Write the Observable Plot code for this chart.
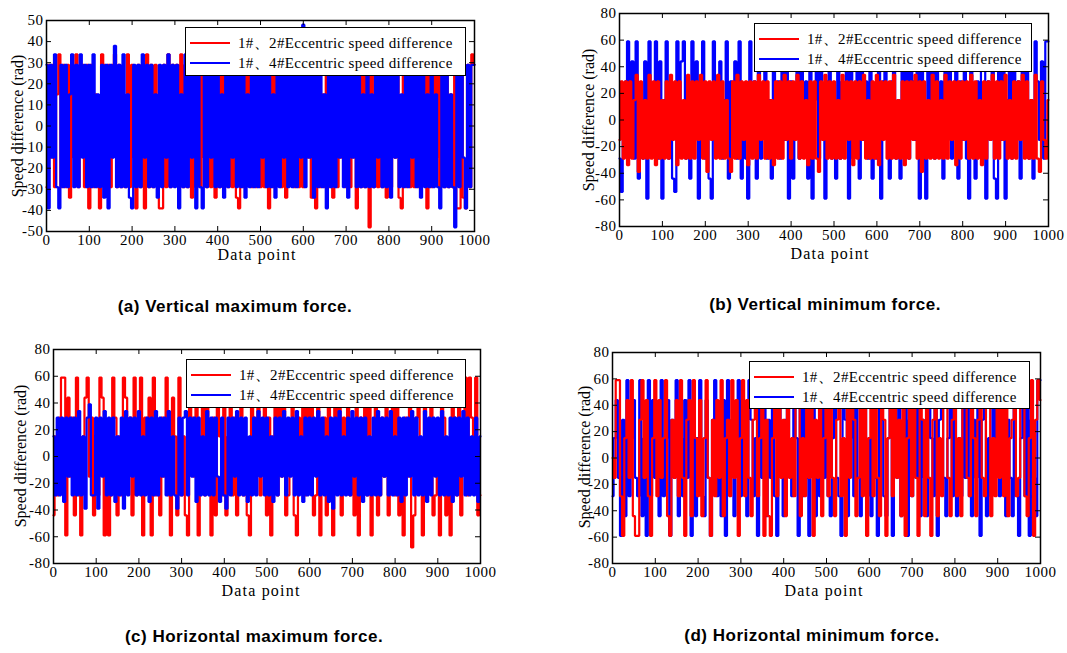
<!DOCTYPE html>
<html><head><meta charset="utf-8">
<script src="https://cdn.jsdelivr.net/npm/d3@7"></script>
<script src="https://cdn.jsdelivr.net/npm/@observablehq/plot@0.6"></script>
<style>
body{margin:0;background:#fff;}
#root{position:relative;width:1067px;height:653px;overflow:hidden;background:#fff;}
.panel{position:absolute;}
.ylab{position:absolute;font-family:"Liberation Serif",serif;font-size:16px;white-space:nowrap;transform:translate(-50%,-50%) rotate(-90deg);}
.xlab{position:absolute;font-family:"Liberation Serif",serif;font-size:16px;letter-spacing:1.2px;white-space:nowrap;transform:translate(-50%,-50%);}
.cap{position:absolute;font-family:"Liberation Sans",Arial,sans-serif;font-weight:bold;font-size:17px;letter-spacing:0.5px;white-space:nowrap;transform:translate(-50%,-50%);}
.legend{position:absolute;background:#fff;border:1.5px solid #000;box-sizing:border-box;font-family:"Liberation Serif",serif;font-size:15px;letter-spacing:0.35px;z-index:2;}
.row{position:absolute;left:0;height:20px;display:flex;align-items:center;white-space:nowrap;}
.swatch{width:40px;height:2px;margin-left:4px;margin-right:8px;}
</style></head><body><div id="root"></div>
<script>
// ---------- data ----------
const seriesNames = ["1#、2#Eccentric speed difference", "1#、4#Eccentric speed difference"];
const seriesColors = ["#ff0000", "#0000ff"];
const xTicks = [0,100,200,300,400,500,600,700,800,900,1000];
const yTicksA = [-50,-40,-30,-20,-10,0,10,20,30,40,50];
const yTicksB = [-80,-60,-40,-20,0,20,40,60,80];
const captions = ["(a) Vertical maximum force.","(b) Vertical minimum force.","(c) Horizontal maximum force.","(d) Horizontal minimum force."];
const xLabel = "Data point";
const yLabel = "Speed difference (rad)";

// (a) vertical maximum force
const aRed = [-29,29,-15,29,-29,15,34,-29,29,-29,
29,-34,29,-15,34,-29,15,29,-29,29,
-39,29,-29,15,-29,-39,34,29,-15,29,
-29,29,34,-29,29,-29,15,-29,34,-29,
29,-15,-39,29,-29,29,-39,34,-29,29,
-29,29,-15,-39,-39,29,-29,34,-29,29,
-15,29,-29,34,-29,29,-29,15,-34,29,
-29,29,-29,34,-15,-29,29,-29,29,-34,
29,-29,29,-15,34,-29,29,-29,29,-34,
-39,29,-29,29,-15,34,-29,29,-29,29,
-29,15,-29,29,-39,34,-29,29,-15,29,
-29,29,-34,29,-15,29,-29,34,-29,29,
-29,29,-15,29,-34,29,-39,34,-29,15,
-29,29,-29,15,-34,29,-29,29,-15,34,
-29,29,-29,29,-15,-39,29,-29,34,-29,
29,-48,29,-29,15,-29,34,-29,29,-34,
29,-29,29,-15,29,-34,-39,29,-29,15,
-29,34,-29,29,-29,29,-15,29,-39,29,
-29,29,-15,34,-29,29,-29,29,-29,15,
-29,29,-39,-39,29,-34,-39,29,-29,34,
29];
const aBlue = [29,-39,29,-15,34,-29,-39,29,-29,29,
-29,15,34,-29,29,-29,34,-15,29,-29,
29,-29,34,-29,15,-29,29,-34,29,-39,
29,-15,38,-29,29,-29,34,-29,15,-34,
-39,29,-29,29,-29,34,-15,29,-29,29,
-29,15,-34,29,-29,29,-15,34,-29,29,
-29,29,-39,15,-29,34,-29,29,-15,29,
-39,29,-29,-39,29,-29,34,-15,29,-29,
29,-29,15,-34,29,-29,29,-15,34,-29,
29,-29,29,-34,15,-29,29,-29,29,-29,
34,-15,29,-29,29,-29,15,-34,29,-29,
29,-15,29,-29,34,-29,29,-29,29,-15,
48,-29,29,-15,29,-34,29,-29,29,-29,
15,-39,29,-29,34,-29,29,-15,29,-29,
29,-34,29,-15,29,-29,34,-29,15,-29,
29,-29,15,-29,34,-15,29,-29,29,-29,
29,-34,29,-15,29,-29,15,-29,34,-29,
29,-15,29,-29,29,-34,29,-29,15,-29,
29,-29,15,-29,-39,29,-29,29,-29,15,
-29,-48,29,-29,29,-15,-39,29,-29,29,
29];

// (b) vertical minimum force
const bRed = [-15,29,-29,29,-34,29,-29,15,34,-39,
29,-29,15,-29,34,-29,29,-34,29,-29,
15,-29,29,-29,34,-15,29,-34,29,-29,
15,-29,34,-29,29,-29,29,-15,34,-29,
29,-39,29,-15,29,-29,34,-29,29,-29,
15,-29,-39,29,-29,34,-29,29,-15,29,
-34,29,-29,29,-29,34,-15,29,-29,29,
-29,15,-34,29,-29,29,-29,34,-15,29,
-29,29,-15,34,-29,29,-29,15,-34,29,
-29,29,-29,-39,29,-15,34,-29,29,-29,
29,-29,15,-29,34,-29,29,-15,29,-34,
29,-29,29,-15,34,-29,15,-29,29,-29,
34,-34,29,-15,29,-29,29,-29,34,-29,
15,-29,29,-34,29,-29,29,-15,34,-29,
29,-39,29,-29,15,-29,34,-29,29,-29,
15,-29,34,-29,29,-15,29,-34,29,-29,
29,-15,29,-29,34,-29,29,-29,15,-34,
29,-29,29,-15,34,-29,29,-29,29,-15,
34,-29,15,-29,29,-29,29,-15,34,-29,
29,-29,15,-29,34,-29,-39,29,-15,-29,
15];
const bBlue = [-29,-54,15,29,59,-15,44,-29,59,-44,
15,-29,44,-59,59,15,-15,59,-29,44,
-59,15,59,-29,29,-44,-54,59,-15,44,
59,-29,15,-44,59,-15,44,-59,29,59,
-29,15,-44,-59,59,-15,29,44,-29,15,
59,-44,29,-15,44,-29,59,-44,15,-29,
-59,59,-15,29,-44,59,-29,15,44,-29,
15,-44,59,-15,29,-29,44,-15,59,-59,
29,-44,15,59,-29,44,-15,29,-44,59,
-59,15,44,-29,59,-15,-59,29,44,-29,
15,-44,59,-29,29,-15,44,-59,59,-29,
15,44,-44,59,-15,29,-29,59,-44,15,
-29,44,-59,29,59,-15,-44,29,59,-29,
15,-44,59,-15,44,-29,59,29,-15,44,
-59,59,-29,-59,44,15,59,-29,44,-15,
29,-44,59,-15,44,-29,15,59,-44,29,
-15,44,-29,-59,59,15,-44,29,-15,44,
59,-59,29,-15,59,-44,-59,44,-15,59,
-59,15,59,-29,44,-15,29,-44,59,-15,
44,-29,15,-44,59,29,-15,44,-29,59,
59];

// (c) horizontal maximum force
const cRed = [-44,15,-29,29,59,59,-59,44,-15,29,
-44,59,-29,-59,15,44,59,-15,29,-44,
15,-29,59,44,-59,15,-59,-29,59,29,
-44,15,-29,59,44,-15,29,-44,59,-29,
15,59,-59,29,-15,44,-59,59,-29,15,
-44,29,-15,59,-29,-59,44,15,-44,59,
-29,15,-44,-59,59,29,-15,44,-59,15,
59,-29,44,-15,-59,29,-44,59,15,-29,
44,-44,15,59,-29,29,-44,-15,59,-29,
15,-44,-59,59,29,-15,44,-29,15,59,
-44,29,-59,15,59,-29,44,-15,59,-44,
-29,15,59,-44,-59,29,-15,59,-29,44,
-15,59,-44,-29,59,-59,15,29,-44,59,
-29,-59,44,15,59,-44,29,-15,59,-29,
15,-44,59,-59,29,-15,44,-29,59,-59,
15,59,-44,-29,29,-15,59,-44,15,44,
-29,59,-44,15,-59,29,-15,59,-68,-44,
29,59,-15,-59,44,-29,15,59,-44,-29,
15,-59,59,29,-44,-15,-59,59,29,-29,
44,-44,15,59,-29,59,29,-15,59,-44,
-29];
const cBlue = [15,-29,29,-29,29,-34,29,-15,29,-29,
29,-29,34,-29,15,-39,29,39,-29,-29,
29,-39,29,-15,34,-29,29,-29,29,-34,
15,-29,29,-39,34,-29,29,-15,29,-29,
34,-29,15,-29,29,-34,29,-29,34,-29,
29,-15,29,-29,34,-29,15,-29,-39,29,
-29,29,34,-29,29,-15,29,-34,29,-29,
15,-29,34,-29,29,-29,29,-15,-34,29,
-29,-39,29,-29,29,-15,34,-29,29,-29,
29,-34,15,-29,29,-29,34,-15,29,-29,
29,-29,15,-34,29,-29,29,-15,34,-29,
29,-15,29,-29,34,-29,15,-34,29,-29,
29,-29,29,-15,34,-29,29,-29,15,-34,
29,-39,29,-29,34,-29,15,-29,29,-29,
34,-15,29,-29,29,-34,29,-29,15,-29,
29,-29,34,-29,29,-15,29,-29,34,-29,
15,-29,29,-34,29,-29,29,-15,34,-29,
29,-29,15,-29,34,-34,29,-29,29,-15,
29,-29,34,-29,15,-29,29,-34,29,-29,
29,-15,34,-29,29,-29,15,-29,29,-34,
15];

// (d) horizontal minimum force
const dRed = [0,-15,59,59,-29,-59,15,44,-15,59,
-44,-59,-59,29,59,-15,44,-29,-59,15,
59,-29,44,-15,15,59,-44,-59,29,-15,
44,-29,59,-15,-59,29,44,-44,59,15,
-29,44,-44,15,59,-15,-59,29,-29,44,
-15,59,-44,15,29,-29,59,-15,44,-59,
15,59,-29,44,-15,-44,29,59,-29,15,
59,-59,29,-44,-59,15,59,-29,44,-15,
29,-44,59,-15,15,-29,44,59,-44,15,
-29,59,-15,44,-59,29,-15,59,-44,15,
44,-29,59,-15,-44,29,59,-29,15,-59,
44,-15,59,29,-44,-15,59,-29,44,-59,
15,59,-29,44,-15,-44,59,29,-59,15,
44,-29,59,-15,29,-44,59,-59,15,44,
-29,59,-15,-59,44,29,-44,59,-15,-59,
29,59,-44,15,-29,44,59,-15,-44,29,
59,-29,15,-44,59,44,-15,-29,59,15,
-44,29,59,-15,-29,44,59,-44,15,-29,
59,-15,44,-29,59,-44,15,29,59,-29,
-15,44,59,-29,-44,15,59,-59,29,59,
44];
const dBlue = [-29,15,44,-15,-59,29,-44,59,-29,15,
44,-15,-29,59,-44,15,-59,59,-29,44,
-15,29,-44,59,-29,15,44,-59,29,-15,
59,-44,15,-29,44,-15,59,-59,29,-44,
15,59,-29,-44,44,-15,-59,29,59,-29,
15,-44,44,-59,59,-15,29,-44,15,59,
-29,44,-15,-44,59,29,-29,15,-59,44,
-15,59,-44,29,-15,44,-29,-59,59,15,
-44,29,59,-15,-29,44,15,-59,59,-29,
44,-15,-59,29,59,-44,15,-29,44,-15,
59,-29,-44,15,44,-15,-29,-59,59,29,
-44,15,59,-29,44,-15,-44,29,59,-29,
15,-44,44,-15,-59,59,29,-29,-44,15,
59,-59,29,-15,44,-44,15,59,-59,29,
-29,44,-15,59,-44,29,-15,-44,59,15,
-29,44,-59,29,59,-15,-44,15,44,-29,
59,-44,15,-29,44,-15,59,-29,-44,29,
-15,59,-59,29,44,-44,15,-29,59,-15,
44,-29,15,59,-44,29,-15,-44,59,-29,
-59,15,44,-29,59,-59,29,-15,-44,59,
59];

// ---------- layout ----------
const panels = [
  {left:0,   top:0,   width:520, height:270, mL:46, mR:46, mT:20, mB:39, yDomain:[-50,50], yTicks:yTicksA,
   series:[{v:aRed,c:0},{v:aBlue,c:1}], legend:{x:185,y:27,w:281,h:49}, ylab:[18,126], xlab:[257,255], cap:[235,307]},
  {left:533, top:0,   width:534, height:270, mL:86, mR:19, mT:13, mB:44, yDomain:[-80,80], yTicks:yTicksB,
   series:[{v:bBlue,c:1},{v:bRed,c:0}], legend:{x:754,y:23,w:278,h:49}, ylab:[589,120], xlab:[830,254], cap:[825,305]},
  {left:0,   top:330, width:520, height:270, mL:53, mR:40, mT:19, mB:37, yDomain:[-80,80], yTicks:yTicksB,
   series:[{v:cRed,c:0},{v:cBlue,c:1}], legend:{x:186,y:359,w:280,h:49}, ylab:[21,456], xlab:[261,591], cap:[254,637]},
  {left:533, top:330, width:534, height:270, mL:79, mR:27, mT:22, mB:37, yDomain:[-80,80], yTicks:yTicksB,
   series:[{v:dBlue,c:1},{v:dRed,c:0}], legend:{x:749,y:361,w:281,h:48}, ylab:[585,457], xlab:[824,591], cap:[812,636]}
];

const root = document.getElementById("root");
panels.forEach((p, k) => {
  const plotH = p.height - p.mT - p.mB;
  const plotW = p.width - p.mL - p.mR;
  const tl = 5;
  const marks = [];
  for (const s of p.series) {
    const n = s.v.length - 1;
    marks.push(Plot.line(s.v, {x: (d, i) => i * 1000 / n, y: d => d, stroke: seriesColors[s.c], strokeWidth: 2.2, curve: "step", strokeLinejoin: "miter"}));
  }
  marks.push(Plot.tickX(xTicks, {x: d => d, insetTop: plotH - tl, stroke: "black", strokeWidth: 1}));
  marks.push(Plot.tickX(xTicks, {x: d => d, insetBottom: plotH - tl, stroke: "black", strokeWidth: 1}));
  marks.push(Plot.tickY(p.yTicks, {y: d => d, insetRight: plotW - tl, stroke: "black", strokeWidth: 1}));
  marks.push(Plot.tickY(p.yTicks, {y: d => d, insetLeft: plotW - tl, stroke: "black", strokeWidth: 1}));
  marks.push(Plot.axisX(xTicks, {tickSize: 0, tickPadding: 3, tickFormat: d => String(d), label: null}));
  marks.push(Plot.axisY(p.yTicks, {tickSize: 0, tickPadding: 3, tickFormat: d => String(d), label: null}));
  marks.push(Plot.frame({stroke: "black", strokeWidth: 1.5}));
  const svg = Plot.plot({
    width: p.width, height: p.height,
    marginLeft: p.mL, marginRight: p.mR, marginTop: p.mT, marginBottom: p.mB,
    x: {domain: [0, 1000]},
    y: {domain: p.yDomain},
    style: {fontFamily: "'Liberation Serif', serif", fontSize: "15px", letterSpacing: "0.5px", color: "black", background: "transparent", overflow: "visible"},
    marks
  });
  svg.classList.add("panel");
  svg.style.left = p.left + "px";
  svg.style.top = p.top + "px";
  svg.style.position = "absolute";
  root.appendChild(svg);

  // legend
  const lg = document.createElement("div");
  lg.className = "legend";
  Object.assign(lg.style, {left: p.legend.x + "px", top: p.legend.y + "px", width: p.legend.w + "px", height: p.legend.h + "px"});
  seriesNames.forEach((name, j) => {
    const row = document.createElement("div");
    row.className = "row";
    row.style.top = (5 + j * 20) + "px";
    const sw = document.createElement("div");
    sw.className = "swatch";
    sw.style.background = seriesColors[j];
    const tx = document.createElement("span");
    tx.textContent = name;
    row.appendChild(sw); row.appendChild(tx);
    lg.appendChild(row);
  });
  root.appendChild(lg);

  const yl = document.createElement("div");
  yl.className = "ylab"; yl.textContent = yLabel;
  yl.style.left = p.ylab[0] + "px"; yl.style.top = p.ylab[1] + "px";
  root.appendChild(yl);
  const xl = document.createElement("div");
  xl.className = "xlab"; xl.textContent = xLabel;
  xl.style.left = p.xlab[0] + "px"; xl.style.top = p.xlab[1] + "px";
  root.appendChild(xl);
  const cp = document.createElement("div");
  cp.className = "cap"; cp.textContent = captions[k];
  cp.style.left = p.cap[0] + "px"; cp.style.top = p.cap[1] + "px";
  root.appendChild(cp);
});
</script></body></html>
